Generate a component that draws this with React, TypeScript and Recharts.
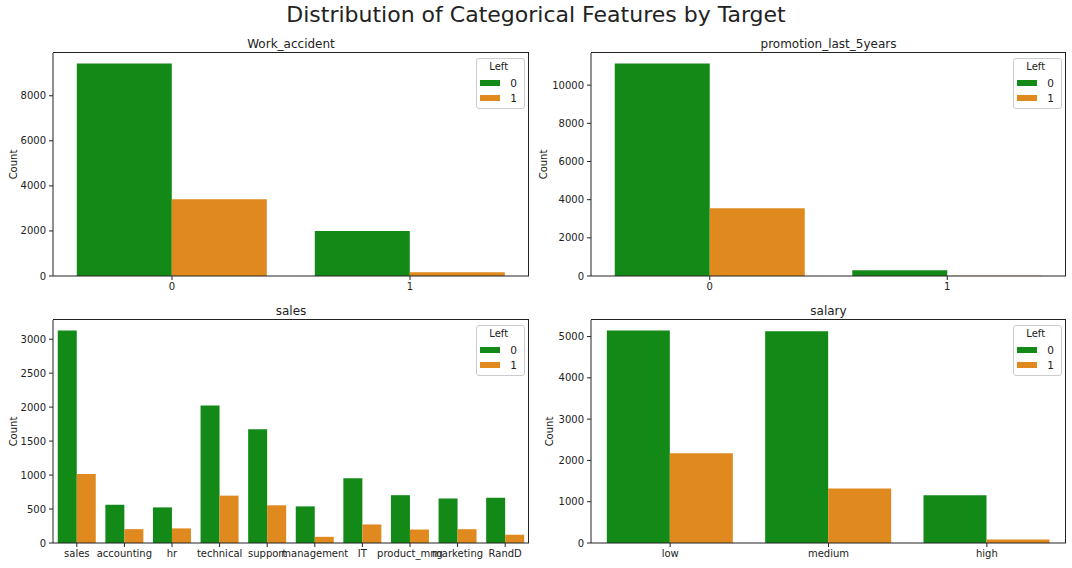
import { BarChart, Bar, XAxis, YAxis, Legend } from 'recharts';

const FONT = '"DejaVu Sans", sans-serif';
const INK = '#222222';
const STAY_COLOR = '#138a17';
const LEFT_COLOR = '#e0891f';

// counts per category, split by the "Left" target (0 = stayed, 1 = left)
const WORK_CATS = ['0', '1'];
const WORK_STAY = [9428, 2000];
const WORK_LEFT = [3402, 169];
const WORK_TICKS = [0, 2000, 4000, 6000, 8000];

const PROMO_CATS = ['0', '1'];
const PROMO_STAY = [11128, 300];
const PROMO_LEFT = [3552, 19];
const PROMO_TICKS = [0, 2000, 4000, 6000, 8000, 10000];

const SALES_CATS = ['sales', 'accounting', 'hr', 'technical', 'support', 'management', 'IT', 'product_mng', 'marketing', 'RandD'];
const SALES_STAY = [3126, 563, 524, 2023, 1674, 539, 954, 704, 655, 666];
const SALES_LEFT = [1014, 204, 215, 697, 555, 91, 273, 198, 203, 121];
const SALES_TICKS = [0, 500, 1000, 1500, 2000, 2500, 3000];

const SALARY_CATS = ['low', 'medium', 'high'];
const SALARY_STAY = [5144, 5129, 1155];
const SALARY_LEFT = [2172, 1317, 82];
const SALARY_TICKS = [0, 1000, 2000, 3000, 4000, 5000];

const Y_AXIS_W = 53;
const X_AXIS_H = 26;

const CountLabel = ({ viewBox, dx }: any) => {
  const cx = viewBox.x + dx;
  const cy = viewBox.y + viewBox.height / 2;
  return (
    <text
      x={cx}
      y={cy}
      transform={`rotate(-90 ${cx} ${cy})`}
      textAnchor="middle"
      fontSize={10}
      fill={INK}
      fontFamily={FONT}
    >
      Count
    </text>
  );
};

const LegendBox = ({ payload }: any) => (
  <div
    style={{
      border: '1px solid #cccccc',
      borderRadius: 3,
      background: 'rgba(255,255,255,0.8)',
      padding: '2px 7px 3px 3px',
      fontSize: 10.5,
      color: INK,
      fontFamily: FONT,
    }}
  >
    <div style={{ textAlign: 'center', lineHeight: '12px', marginBottom: 2, fontSize: 10 }}>Left</div>
    {(payload || []).map((p: any) => (
      <div key={p.value} style={{ display: 'flex', alignItems: 'center', height: 15 }}>
        <span style={{ display: 'inline-block', width: 20, height: 6, background: p.color, marginRight: 10 }} />
        <span>{p.value}</span>
      </div>
    ))}
  </div>
);

interface PanelProps {
  title: string;
  cats: string[];
  stay: number[];
  left: number[];
  ticks: number[];
  x: number;
  y: number;
  w: number;
  h: number;
  labelX: number;
}

function Panel({ title, cats, stay, left, ticks, x, y, w, h, labelX }: PanelProps) {
  const data = cats.map((c, i) => ({ name: c, stay: stay[i], left: left[i] }));
  const chartLeft = x - Y_AXIS_W;
  const tickStyle = { fontSize: 10, fill: INK, fontFamily: FONT };

  return (
    <>
      <div
        style={{
          position: 'absolute',
          left: x,
          width: w,
          top: y - 16,
          textAlign: 'center',
          fontSize: 12,
          lineHeight: '14px',
          color: INK,
          fontFamily: FONT,
        }}
      >
        {title}
      </div>
      <div style={{ position: 'absolute', left: chartLeft, top: y }}>
        <BarChart
          width={Y_AXIS_W + w}
          height={h + X_AXIS_H}
          data={data}
          margin={{ top: 0, right: 0, bottom: 0, left: 0 }}
          barCategoryGap="10%"
          barGap={0}
        >
          <XAxis
            dataKey="name"
            interval={0}
            height={X_AXIS_H}
            tick={tickStyle}
            tickSize={4}
            tickMargin={3}
            stroke={INK}
          />
          <YAxis
            width={Y_AXIS_W}
            ticks={ticks}
            domain={[0, (max: number) => max * 1.05]}
            interval={0}
            tick={tickStyle}
            tickSize={4}
            tickMargin={3}
            stroke={INK}
            label={<CountLabel dx={labelX - chartLeft} />}
          />
          <Legend
            layout="horizontal"
            verticalAlign="middle"
            align="center"
            content={<LegendBox />}
            wrapperStyle={{ top: 5, right: 4, left: 'auto', width: 'auto', height: 'auto' }}
          />
          <Bar dataKey="stay" name="0" fill={STAY_COLOR} isAnimationActive={false} />
          <Bar dataKey="left" name="1" fill={LEFT_COLOR} isAnimationActive={false} />
        </BarChart>
      </div>
      {/* axes frame (top and right spines) */}
      <div
        style={{
          position: 'absolute',
          left: x,
          top: y - 1,
          width: w,
          height: h + 1,
          borderTop: `1px solid ${INK}`,
          borderRight: `1px solid ${INK}`,
          boxSizing: 'border-box',
          pointerEvents: 'none',
        }}
      />
    </>
  );
}

export default function App() {
  return (
    <div
      style={{
        position: 'absolute',
        left: 0,
        top: 0,
        width: 1072,
        height: 568,
        background: '#ffffff',
        overflow: 'hidden',
        fontFamily: FONT,
      }}
    >
      <div
        style={{
          position: 'absolute',
          left: 0,
          width: 1072,
          top: 2,
          textAlign: 'center',
          fontSize: 22,
          lineHeight: '26px',
          color: INK,
        }}
      >
        Distribution of Categorical Features by Target
      </div>
      <Panel title="Work_accident" cats={WORK_CATS} stay={WORK_STAY} left={WORK_LEFT} ticks={WORK_TICKS}
        x={53} y={53} w={476} h={223} labelX={17} />
      <Panel title="promotion_last_5years" cats={PROMO_CATS} stay={PROMO_STAY} left={PROMO_LEFT} ticks={PROMO_TICKS}
        x={591} y={53} w={475} h={223} labelX={547} />
      <Panel title="sales" cats={SALES_CATS} stay={SALES_STAY} left={SALES_LEFT} ticks={SALES_TICKS}
        x={53} y={320} w={476} h={223} labelX={17} />
      <Panel title="salary" cats={SALARY_CATS} stay={SALARY_STAY} left={SALARY_LEFT} ticks={SALARY_TICKS}
        x={591} y={320} w={475} h={223} labelX={553} />
    </div>
  );
}
